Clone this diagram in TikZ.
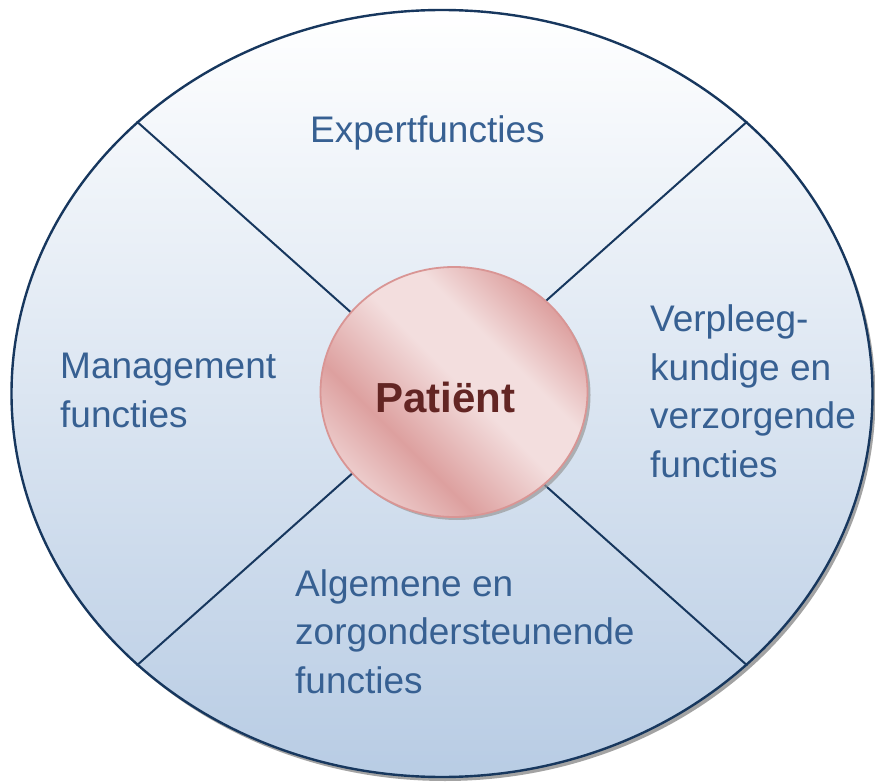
\documentclass[tikz,border=0pt]{standalone}
\usepackage{fontspec}
\setmainfont{Liberation Sans}
\usetikzlibrary{%
    shapes,%
    shadows,%
    positioning,%
    calc%
}
\definecolor{rimblue}{RGB}{23,55,94}
\definecolor{textblue}{RGB}{55,96,146}
\definecolor{skyblue}{RGB}{184,204,228}
\definecolor{rosedark}{RGB}{221,160,159}
\definecolor{roselight}{RGB}{243,222,222}
\definecolor{roseline}{RGB}{217,149,148}
\definecolor{wine}{RGB}{99,37,35}
\pgfdeclarehorizontalshading{rosy}{100bp}{%
    color(0bp)=(rosedark); color(25bp)=(roselight!70!rosedark);
    color(36bp)=(rosedark); color(52bp)=(roselight); color(62bp)=(roselight);
    color(75bp)=(rosedark); color(100bp)=(rosedark)}
\tikzset{
    rim/.style = {ellipse, draw = rimblue, line width = 2.4pt, inner sep = 0pt,
    minimum width = 861pt, minimum height = 767pt, top color = white,
    bottom color = skyblue, drop shadow = {shadow xshift = 3pt,
    shadow yshift = -4pt, fill = black!45, opacity = 0.8}},
    spoke/.style = {draw = rimblue, line width = 2pt},
    hub/.style = {ellipse, draw = roseline, line width = 1.8pt, inner sep = 0pt,
    minimum width = 267pt, minimum height = 250pt, shading = rosy,
    shading angle = 45, drop shadow = {shadow xshift = 3pt,
    shadow yshift = -3pt, fill = black!40, opacity = 0.7}},
    sector/.style = {anchor = base west, inner sep = 0pt, align = left,
    text = textblue, font = \fontsize{37}{48.5}\selectfont}
}

\begin{document}
\begin{tikzpicture}[x=1pt, y=-1pt]
    \useasboundingbox (0,0) rectangle (875,783);
    \node[rim] (rim) at (442,393.5) {};
    \draw[spoke] (rim.north west) -- (rim.south east);
    \draw[spoke] (rim.north east) -- (rim.south west);
    \node[hub] (hub) at (454,392) {};
    \node[text = wine, font = \fontsize{42}{50}\bfseries, anchor = base,
    inner sep = 0pt] (patient) at (445.5,412) {Patiënt};
    % the four kinds of functions (base = last line)
    \node[sector] (expert) at (310,143) {Expertfuncties};
    \node[sector] (manage) at (60,427) {Management\\functies};
    \node[sector] (care) at (650,477) {Verpleeg-\\kundige en\\verzorgende\\functies};
    \node[sector] (support) at (295,693) {Algemene en\\zorgondersteunende\\functies};
\end{tikzpicture}
\end{document}
